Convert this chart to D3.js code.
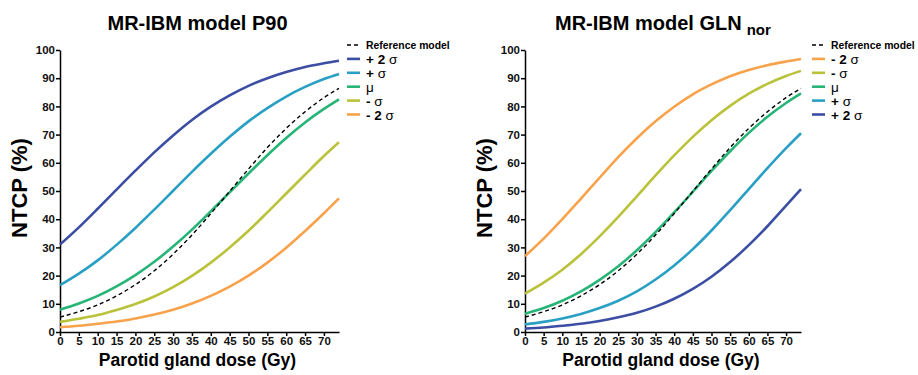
<!DOCTYPE html>
<html>
<head>
<meta charset="utf-8">
<script src="https://cdn.jsdelivr.net/npm/d3@7"></script>
<style>
  body { margin: 0; background: #fff; }
  text { font-family: "Liberation Sans", Arial, sans-serif; }
</style>
</head>
<body>
<div id="chart"></div>
<script>
// dose grid (Gy)
var doses = [0, 5, 10, 15, 20, 25, 30, 35, 40, 45, 50, 55, 60, 65, 70, 74];

// reference model, same in both panels
var reference = [5.3, 7.2, 9.6, 12.8, 16.8, 21.7, 27.6, 34.4, 42.0, 49.9, 57.8, 65.4, 72.2, 78.1, 83.1, 86.4];

// MR-IBM model P90
var p90Plus2  = [31.0, 37.1, 43.7, 50.5, 57.2, 63.7, 69.7, 75.2, 79.9, 83.9, 87.3, 90.0, 92.2, 94.0, 95.3, 96.2];
var p90Plus1  = [16.6, 20.7, 25.4, 30.9, 36.9, 43.4, 50.1, 56.8, 63.2, 69.2, 74.7, 79.4, 83.5, 86.9, 89.7, 91.5];
var p90Mu     = [7.9, 10.1, 12.8, 16.2, 20.2, 24.9, 30.3, 36.3, 42.8, 49.5, 56.2, 62.7, 68.8, 74.3, 79.1, 82.5];
var p90Minus1 = [3.6, 4.7, 6.0, 7.8, 9.9, 12.6, 15.9, 19.9, 24.6, 30.0, 35.9, 42.4, 49.1, 55.8, 62.4, 67.3];
var p90Minus2 = [1.7, 2.2, 2.9, 3.7, 4.8, 6.2, 7.9, 10.1, 12.8, 16.1, 20.0, 24.6, 29.9, 35.8, 42.1, 47.4];

// MR-IBM model GLN nor
var glnMinus2 = [26.9, 33.1, 40.0, 47.3, 54.7, 62.0, 68.7, 74.7, 79.9, 84.3, 87.8, 90.7, 92.9, 94.6, 95.9, 96.8];
var glnMinus1 = [13.6, 17.5, 22.1, 27.6, 33.9, 40.8, 48.1, 55.5, 62.6, 69.2, 75.1, 80.2, 84.5, 88.0, 90.8, 92.6];
var glnMu     = [6.5, 8.5, 11.1, 14.4, 18.5, 23.3, 29.0, 35.4, 42.4, 49.7, 57.1, 64.1, 70.6, 76.3, 81.2, 84.6];
var glnPlus1  = [2.7, 3.6, 4.8, 6.4, 8.5, 11.1, 14.4, 18.6, 23.6, 29.4, 36.0, 43.2, 50.7, 58.1, 65.2, 70.5];
var glnPlus2  = [1.2, 1.6, 2.2, 2.9, 3.9, 5.2, 6.8, 9.0, 11.8, 15.3, 19.6, 24.8, 30.8, 37.5, 44.8, 50.7];

var xTicks = [0, 5, 10, 15, 20, 25, 30, 35, 40, 45, 50, 55, 60, 65, 70];
var yTicks = [0, 10, 20, 30, 40, 50, 60, 70, 80, 90, 100];

var colPlus2 = "#3b4ea3", colPlus1 = "#29a0c3", colMu = "#27b477",
    colMinus1 = "#b9c23a", colMinus2 = "#f8a24c";

var width = 918, height = 375;

var svg = d3.select("#chart")
  .append("svg")
  .attr("width", width)
  .attr("height", height);

var panels = [
  {
    title: "MR-IBM model P90", sub: null,
    x0: 60, x1: 339, titleX: 197.5,
    legendX: 347,
    series: [
      {label: "+ 2 ", sym: "σ", values: p90Plus2, color: colPlus2},
      {label: "+ ", sym: "σ", values: p90Plus1, color: colPlus1},
      {label: "", sym: "μ", values: p90Mu, color: colMu},
      {label: "- ", sym: "σ", values: p90Minus1, color: colMinus1},
      {label: "- 2 ", sym: "σ", values: p90Minus2, color: colMinus2}
    ]
  },
  {
    title: "MR-IBM model GLN", sub: "nor",
    x0: 525, x1: 801, titleX: 555,
    legendX: 812,
    series: [
      {label: "- 2 ", sym: "σ", values: glnMinus2, color: colMinus2},
      {label: "- ", sym: "σ", values: glnMinus1, color: colMinus1},
      {label: "", sym: "μ", values: glnMu, color: colMu},
      {label: "+ ", sym: "σ", values: glnPlus1, color: colPlus1},
      {label: "+ 2 ", sym: "σ", values: glnPlus2, color: colPlus2}
    ]
  }
];

var y = d3.scaleLinear().domain([0, 100]).range([332, 50]);

panels.forEach(function(p) {
  var x = d3.scaleLinear().domain([0, 74]).range([p.x0, p.x1]);
  var g = svg.append("g");

  // axes
  var xAxis = g.append("g")
    .attr("transform", "translate(0," + y(0) + ")")
    .call(d3.axisBottom(x).tickValues(xTicks).tickSize(4).tickPadding(1).tickSizeOuter(0));
  var yAxis = g.append("g")
    .attr("transform", "translate(" + p.x0 + ",0)")
    .call(d3.axisLeft(y).tickValues(yTicks).tickSize(4).tickPadding(1).tickSizeOuter(0));
  [xAxis, yAxis].forEach(function(a) {
    a.select(".domain").attr("stroke", "#000").attr("stroke-width", 1.5);
    a.selectAll(".tick line").attr("stroke", "#000").attr("stroke-width", 1.5);
    a.selectAll(".tick text")
      .attr("fill", "#111")
      .style("font-family", "Liberation Sans, Arial, sans-serif")
      .style("font-weight", "bold")
      .style("font-size", "11.5px");
  });

  var line = d3.line()
    .x(function(d, i) { return x(doses[i]); })
    .y(function(d) { return y(d); })
    .curve(d3.curveMonotoneX);

  p.series.forEach(function(s) {
    g.append("path")
      .datum(s.values)
      .attr("d", line)
      .attr("fill", "none")
      .attr("stroke", s.color)
      .attr("stroke-width", 2.6);
  });

  g.append("path")
    .datum(reference)
    .attr("d", line)
    .attr("fill", "none")
    .attr("stroke", "#000")
    .attr("stroke-width", 1.4)
    .attr("stroke-dasharray", "4,3");

  // title
  var title = g.append("text")
    .attr("x", p.titleX)
    .attr("y", 30)
    .attr("text-anchor", p.sub ? "start" : "middle")
    .style("font-size", "20px")
    .style("font-weight", "bold")
    .text(p.title);
  if (p.sub) {
    title.append("tspan")
      .attr("dx", 5)
      .attr("dy", 5)
      .style("font-size", "15px")
      .text(p.sub);
  }

  // axis labels
  g.append("text")
    .attr("x", (p.x0 + p.x1) / 2 - 2)
    .attr("y", 366)
    .attr("text-anchor", "middle")
    .style("font-size", "17.5px")
    .style("font-weight", "bold")
    .text("Parotid gland dose (Gy)");

  g.append("text")
    .attr("transform", "translate(" + (p.x0 - 33) + ",188) rotate(-90)")
    .attr("text-anchor", "middle")
    .style("font-size", "22px")
    .style("font-weight", "bold")
    .text("NTCP (%)");

  // legend
  var lg = g.append("g");
  var rowY = function(i) { return 45 + i * 13.9; };
  lg.append("line")
    .attr("x1", p.legendX).attr("x2", p.legendX + 13)
    .attr("y1", rowY(0)).attr("y2", rowY(0))
    .attr("stroke", "#000").attr("stroke-width", 1.4)
    .attr("stroke-dasharray", "4,3");
  lg.append("text")
    .attr("x", p.legendX + 19)
    .attr("y", rowY(0) + 4)
    .style("font-size", "10.4px")
    .style("font-weight", "bold")
    .text("Reference model");

  p.series.forEach(function(s, i) {
    var yy = rowY(i + 1);
    lg.append("line")
      .attr("x1", p.legendX).attr("x2", p.legendX + 13)
      .attr("y1", yy).attr("y2", yy)
      .attr("stroke", s.color).attr("stroke-width", 2.6);
    var t = lg.append("text")
      .attr("x", p.legendX + 19)
      .attr("y", yy + 5)
      .style("font-size", "13.5px");
    t.append("tspan").style("font-weight", "bold").text(s.label);
    t.append("tspan").style("font-weight", "normal").text(s.sym);
  });
});
</script>
</body>
</html>
